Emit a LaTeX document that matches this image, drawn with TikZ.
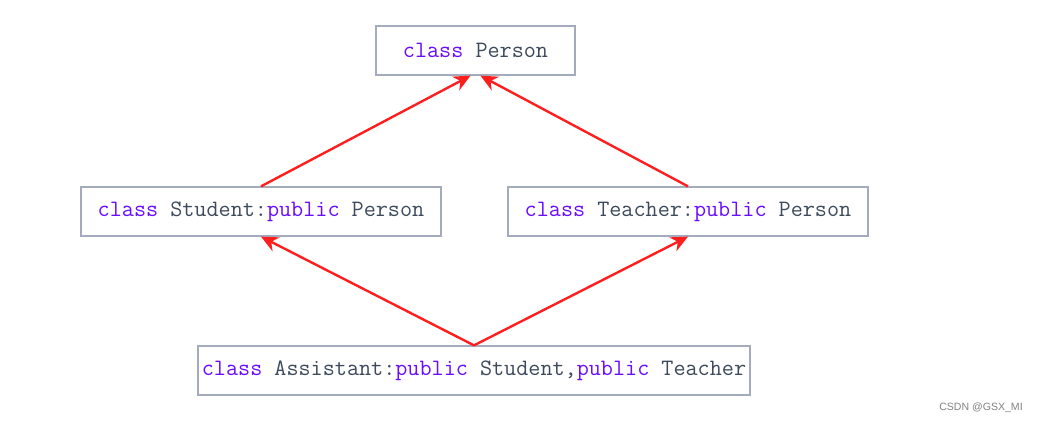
\documentclass[tikz,border=0pt]{standalone}
\usepackage{fontspec}
\setsansfont{Liberation Sans}
\usetikzlibrary{arrows.meta}
\definecolor{kwcolor}{HTML}{6A0DFF}
\definecolor{txtcolor}{HTML}{3C4A5C}
\definecolor{framecolor}{HTML}{A3ABBD}
\definecolor{linkred}{HTML}{FF1E1E}
\newcommand{\kw}[1]{\textcolor{kwcolor}{#1}}
\tikzset{
  classbox/.style={draw=framecolor, line width=0.9pt, minimum height=1.225cm, inner sep=0pt,
    font=\ttfamily\fontsize{16.7}{18}\selectfont, text=txtcolor},
  inherit/.style={draw=linkred, line width=1.7pt, -{Stealth[length=12pt,width=11pt,fill=linkred]}}
}
\begin{document}
\begin{tikzpicture}[x=0.025cm,y=-0.025cm]
\useasboundingbox (0,0) rectangle (1038,423);

\node[classbox, minimum width=4.975cm] (person) at (475.5,50.5) {\kw{class} Person};
\node[classbox, minimum width=9cm] (student) at (261,211.5) {\kw{class} Student:\kw{public} Person};
\node[classbox, minimum width=9cm] (teacher) at (688,211.5) {\kw{class} Teacher:\kw{public} Person};
\node[classbox, minimum width=13.8cm] (assistant) at (474,370.5) {\kw{class} Assistant:\kw{public} Student,\kw{public} Teacher};

\draw[inherit] (student.north) -- ([xshift=-3.5pt]person.south);
\draw[inherit] (teacher.north) -- ([xshift=3.5pt]person.south);
\draw[inherit] (assistant.north) -- (student.south);
\draw[inherit] (assistant.north) -- (teacher.south);

\node[font=\sffamily\fontsize{7.5}{9}\selectfont, text=gray] (mark) at (981,408) {CSDN @GSX\_MI};
\end{tikzpicture}
\end{document}
